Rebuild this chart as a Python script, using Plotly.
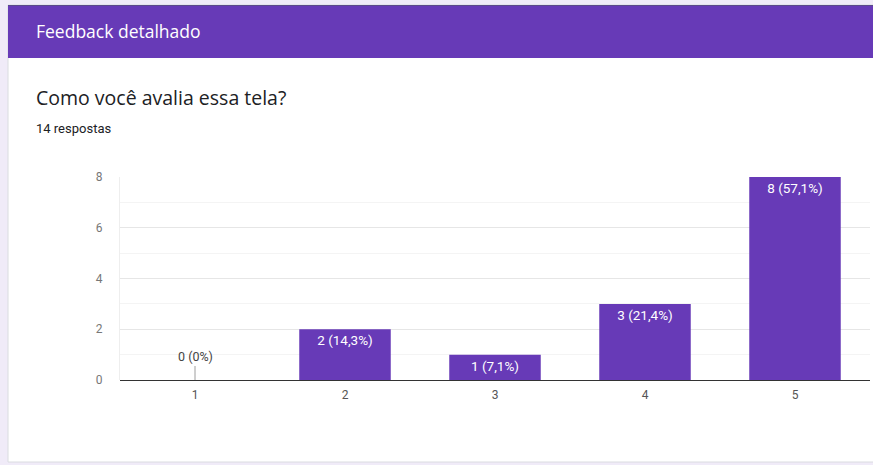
import plotly.graph_objects as go

categories = ["1", "2", "3", "4", "5"]
values = [0, 2, 1, 3, 8]
labels = ["0 (0%)", "2 (14,3%)", "1 (7,1%)", "3 (21,4%)", "8 (57,1%)"]
y_ticks = [0, 2, 4, 6, 8]

W, H = 873, 465
L, R, T, B = 120, 870, 177, 380  # plot area in pixels

def px(x):
    return (x - L) / (R - L)

def py(y):
    return (B - y) / (B - T)

PURPLE = "#673ab7"
FONT = "Roboto, Arial, sans-serif"
WIDE = "Open Sans, Roboto, sans-serif"

fig = go.Figure()
fig.add_trace(go.Bar(
    x=categories,
    y=values,
    marker=dict(color=PURPLE, line=dict(width=0)),
    width=0.61,
    text=[t if v > 0 else "" for t, v in zip(labels, values)],
    textposition="inside",
    insidetextanchor="end",
    textfont=dict(color="white", size=13.5, family=FONT),
    textangle=0,
    hoverinfo="skip",
))

shapes = [
    dict(type="rect", xref="paper", yref="paper", layer="below",
         x0=px(8), x1=px(890), y0=py(462), y1=py(5),
         fillcolor="white", line=dict(color="#dadce0", width=1)),
    dict(type="rect", xref="paper", yref="paper", layer="below",
         x0=px(8), x1=px(890), y0=py(58), y1=py(5),
         fillcolor=PURPLE, line=dict(width=0)),
    dict(type="line", xref="paper", yref="paper", layer="below",
         x0=px(8), x1=px(890), y0=py(5.5), y1=py(5.5),
         line=dict(color="#5a4a8a", width=1)),
]

annotations = [
    dict(text="Feedback detalhado", xref="paper", yref="paper",
         x=px(34), y=py(31), xanchor="left", yanchor="middle", showarrow=False,
         font=dict(color="white", size=17.5, family=WIDE)),
    dict(text="Como você avalia essa tela?", xref="paper", yref="paper",
         x=px(34), y=py(98), xanchor="left", yanchor="middle", showarrow=False,
         font=dict(color="#202124", size=19.5, family=WIDE)),
    dict(text="14 respostas", xref="paper", yref="paper",
         x=px(34), y=py(128), xanchor="left", yanchor="middle", showarrow=False,
         font=dict(color="#202124", size=13, family=FONT)),
]
for i, (v, t) in enumerate(zip(values, labels)):
    if v == 0:
        annotations.append(dict(
            text=t, x=i, y=v, xref="x", yref="y", showarrow=True,
            arrowhead=0, arrowwidth=1, arrowcolor="#9e9e9e", ax=0, ay=-14,
            yanchor="bottom",
            font=dict(color="#444444", size=12.5, family=FONT)))

fig.update_layout(
    width=W, height=H,
    margin=dict(l=L, r=W - R, t=T, b=H - B, pad=0),
    paper_bgcolor="#f0ebf8",
    plot_bgcolor="white",
    showlegend=False,
    shapes=shapes,
    annotations=annotations,
    font=dict(family=FONT, color="#666666", size=12),
    xaxis=dict(
        type="category",
        range=[-0.5, 4.5],
        showgrid=False,
        showline=False,
        zeroline=False,
        ticks="",
        tickfont=dict(size=12, color="#555555"),
        ticklabelstandoff=6,
    ),
    yaxis=dict(
        range=[0, 8],
        tickvals=y_ticks,
        showgrid=True,
        gridcolor="#e6e6e6",
        gridwidth=1,
        minor=dict(dtick=1, showgrid=True, gridcolor="#f4f4f4", gridwidth=1),
        zeroline=True,
        zerolinecolor="#333333",
        zerolinewidth=1,
        showline=True,
        linecolor="#eeeeee",
        ticks="",
        tickfont=dict(size=12, color="#777777"),
        ticklabelstandoff=14,
        fixedrange=True,
    ),
)

fig.write_html("out.html")
